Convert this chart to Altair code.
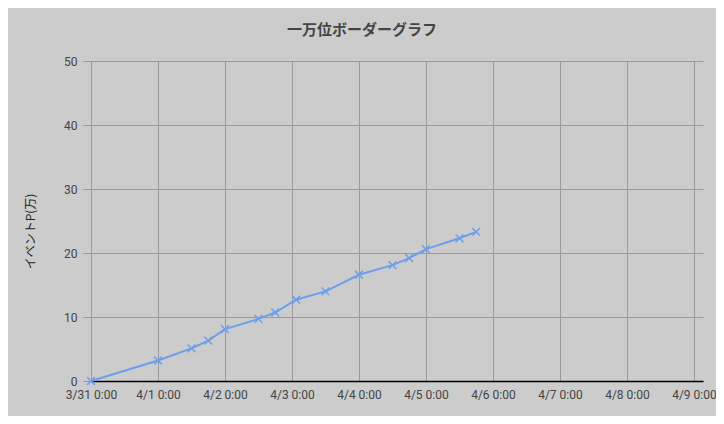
import altair as alt
import pandas as pd

times = ["2024-03-31T00:00", "2024-04-01T00:00", "2024-04-01T12:00", "2024-04-01T18:00",
         "2024-04-02T00:00", "2024-04-02T12:00", "2024-04-02T18:00", "2024-04-03T01:30",
         "2024-04-03T12:00", "2024-04-04T00:00", "2024-04-04T12:00", "2024-04-04T18:00",
         "2024-04-05T00:00", "2024-04-05T12:00", "2024-04-05T18:00"]
values = [0, 3.2, 5.1, 6.3, 8.1, 9.7, 10.7, 12.7, 14.0, 16.6, 18.1, 19.2, 20.6, 22.3, 23.3]

tick_days = [(3, 31), (4, 1), (4, 2), (4, 3), (4, 4), (4, 5), (4, 6), (4, 7), (4, 8), (4, 9)]
y_ticks = [0, 10, 20, 30, 40, 50]

df = pd.DataFrame({"t": times, "v": values})

x_ticks = [alt.DateTime(year=2024, month=m, date=d, hours=0) for m, d in tick_days]
x_domain = [alt.DateTime(year=2024, month=3, date=31, hours=0),
            alt.DateTime(year=2024, month=4, date=9, hours=3, minutes=15)]

x = alt.X("t:T", title=None,
          scale=alt.Scale(domain=x_domain, nice=False),
          axis=alt.Axis(values=x_ticks, format="%-m/%-d %-H:%M", labelOverlap=False,
                        grid=True, gridColor="#999999", ticks=False,
                        domain=True, domainColor="#000000", domainWidth=1.5,
                        labelFont="Roboto", labelFontSize=12, labelColor="#444444",
                        labelPadding=8, labelFlush=False))
y = alt.Y("v:Q", title="イベントP(万)",
          scale=alt.Scale(domain=[0, 50], nice=False),
          axis=alt.Axis(values=y_ticks, grid=True, gridColor="#999999",
                        tickColor="#999999", tickSize=8, domain=False,
                        labelFont="Roboto", labelFontSize=12, labelColor="#444444",
                        labelPadding=6,
                        titleFont="Noto Sans CJK JP", titleFontSize=12, titleFontWeight="normal",
                        titleColor="#222222", titleX=-61, titleY=170,
                        titleAlign="center", titleBaseline="middle"))

line = alt.Chart(df).mark_line(color="#6d9eeb", strokeWidth=2).encode(x=x, y=y)
pts = alt.Chart(df).mark_point(shape="M-1,-1L1,1M1,-1L-1,1", size=60, filled=False,
                               color="#6d9eeb", strokeWidth=1.5, opacity=1).encode(x=x, y=y)

chart = (line + pts).properties(
    width=612, height=320,
    title=alt.TitleParams("一万位ボーダーグラフ", font="Noto Sans CJK JP", fontSize=15,
                          fontWeight="bold", color="#444444", anchor="middle", dx=-35, offset=17),
    autosize=alt.AutoSizeParams(type="none"),
    padding={"left": 83, "top": 53, "right": 13, "bottom": 35},
    background="#cccccc",
).configure_view(stroke=None)

chart.save("out.html", embed_options={"renderer": "svg", "actions": False})
